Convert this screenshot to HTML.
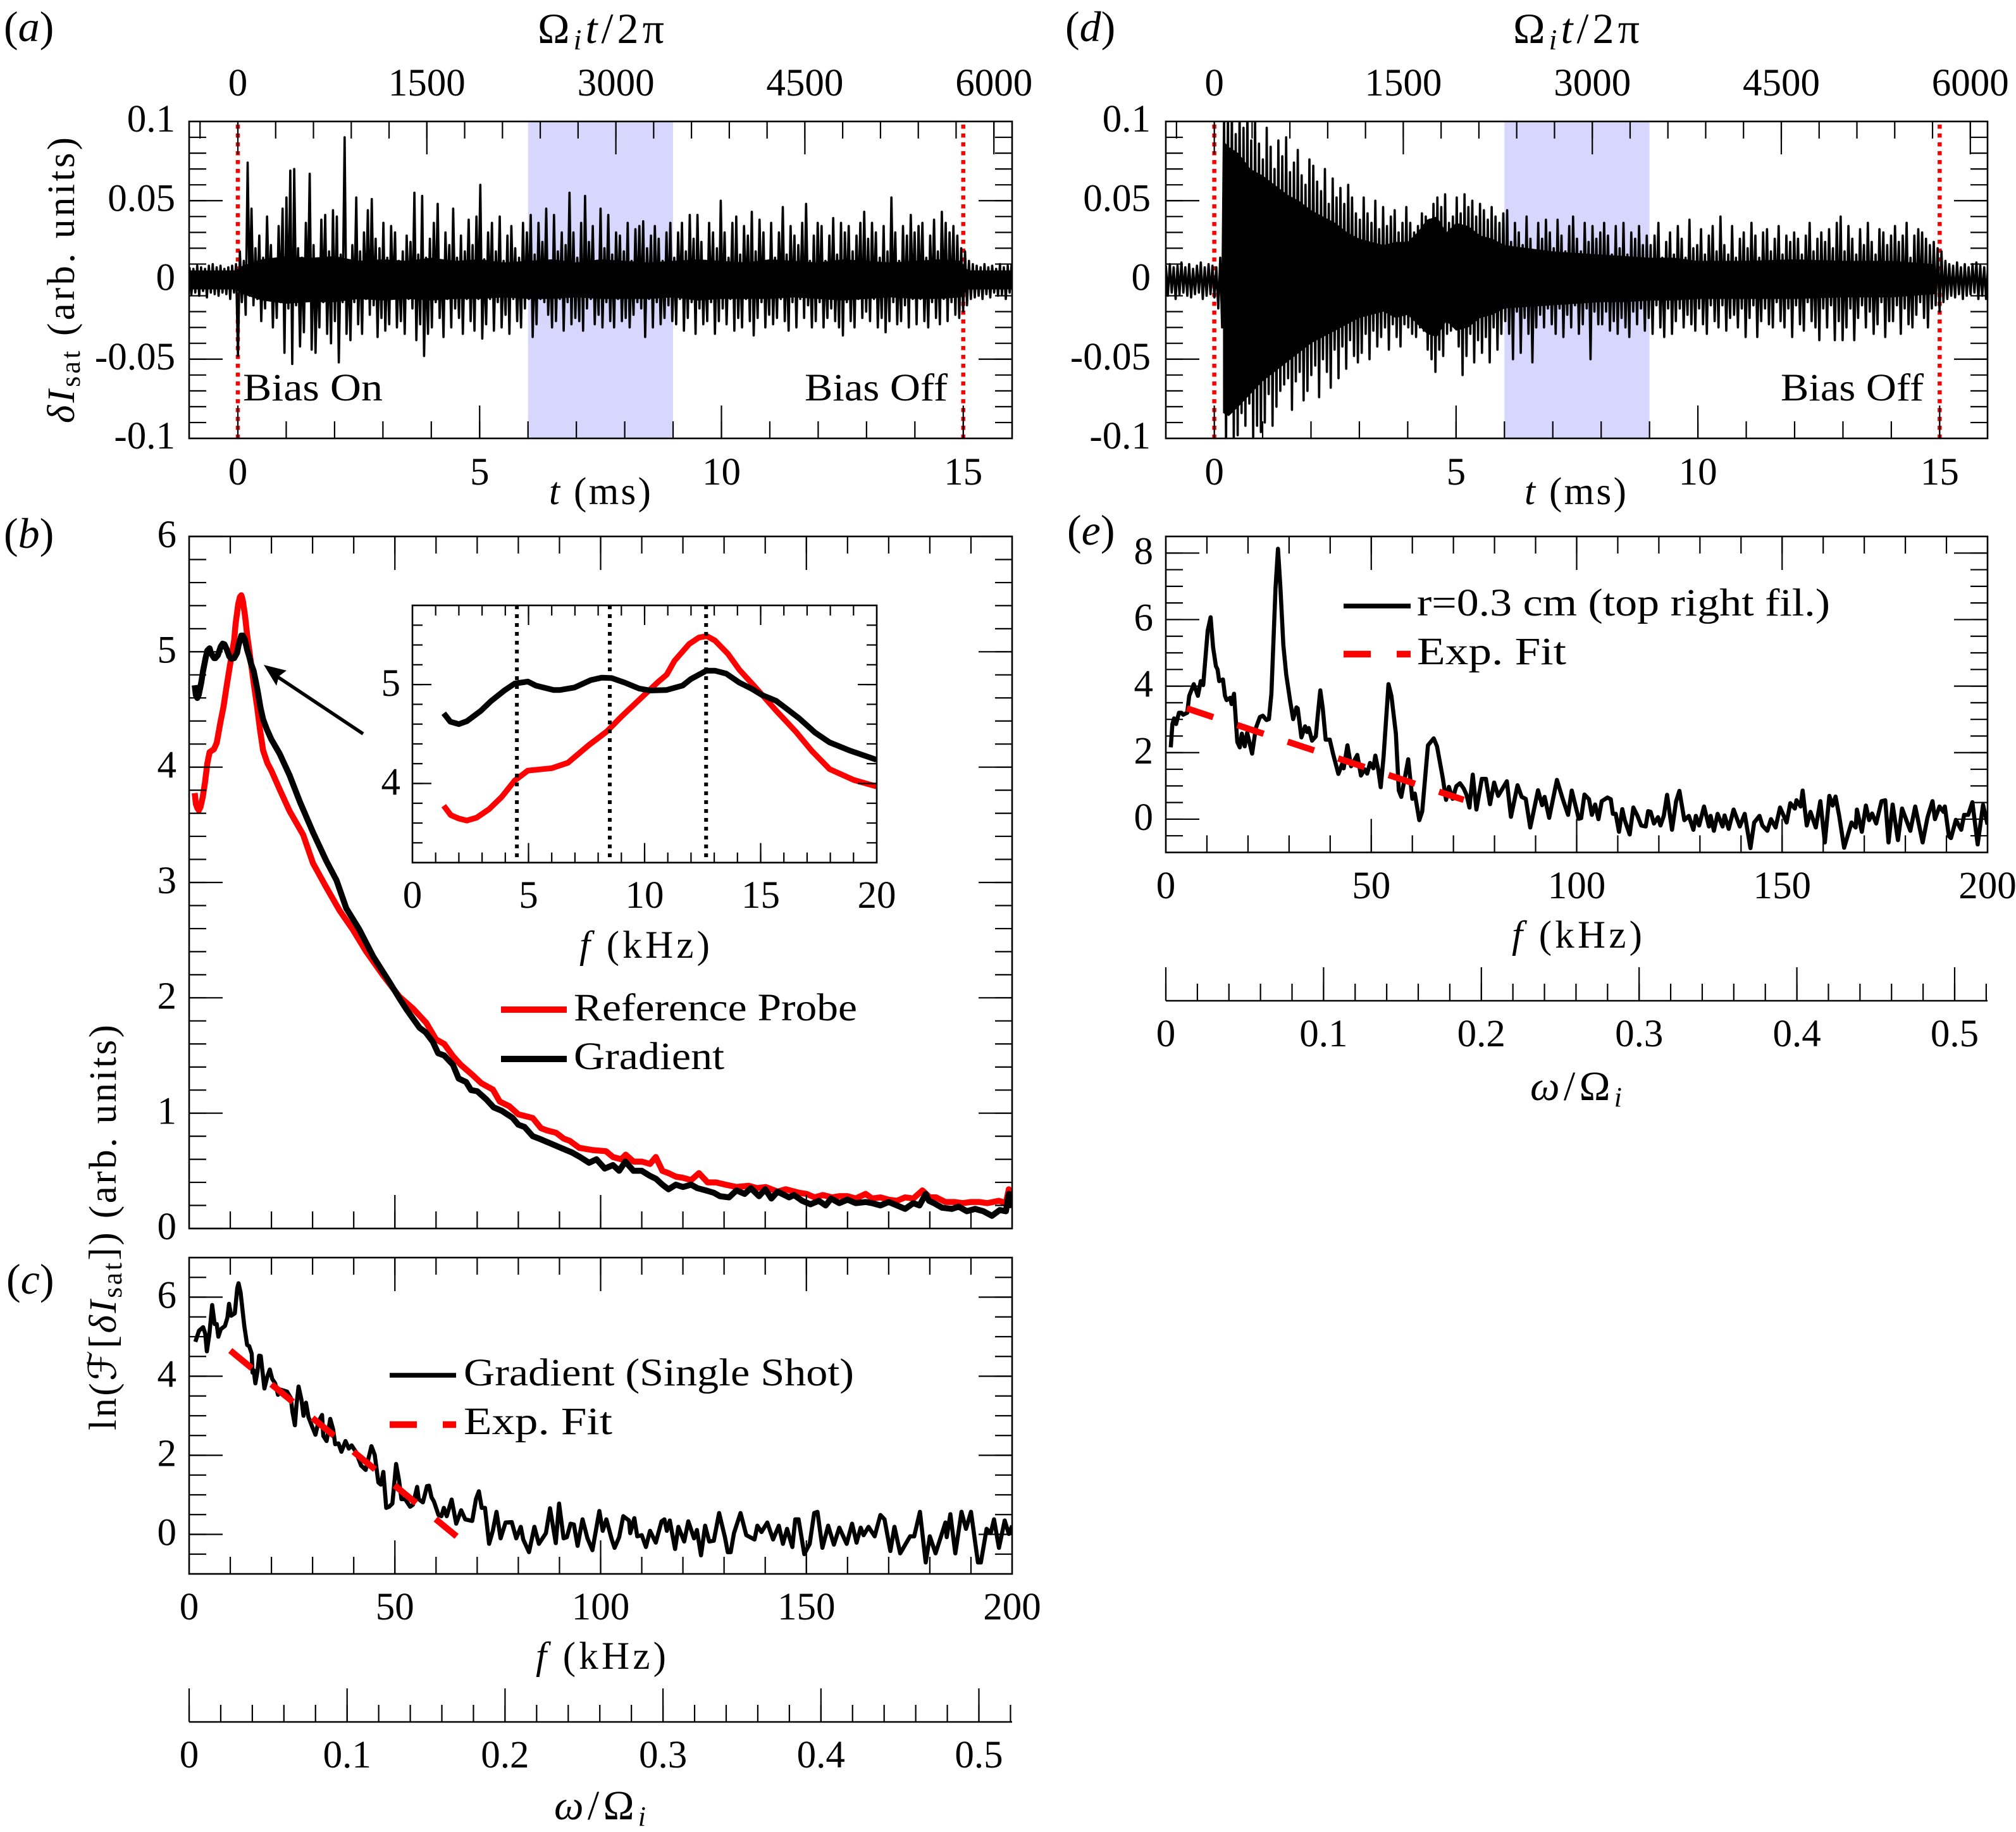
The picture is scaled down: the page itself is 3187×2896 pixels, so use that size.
<!DOCTYPE html>
<html lang="en">
<head>
<meta charset="utf-8">
<title>Ion saturation current fluctuations and spectra</title>
<style>
html,body{margin:0;padding:0;background:#fff;}
svg{display:block;}
text{font-family:"Liberation Serif","DejaVu Serif",serif;font-size:61px;fill:#000;}
.it{font-style:italic;}
</style>
</head>
<body>
<svg id="fig" xmlns="http://www.w3.org/2000/svg" width="3187" height="2896" viewBox="0 0 3187 2896">
<rect width="3187" height="2896" fill="#fff"/>
<defs>
<clipPath id="clip-a"><rect x="299" y="192" width="1301" height="501"/></clipPath>
<clipPath id="clip-d"><rect x="1843" y="192" width="1299" height="501"/></clipPath>
<clipPath id="clip-b"><rect x="299" y="848" width="1301" height="1094"/></clipPath>
<clipPath id="clip-c"><rect x="299" y="1988" width="1301" height="500"/></clipPath>
<clipPath id="clip-e"><rect x="1843" y="848" width="1299" height="500"/></clipPath>
</defs>
<g id="layer-marks"></g>

<text x="6" y="65" style="font-size:68px">(<tspan class="it">a</tspan>)</text>
<text x="1684" y="65" style="font-size:68px">(<tspan class="it">d</tspan>)</text>
<text x="6" y="866" style="font-size:68px">(<tspan class="it">b</tspan>)</text>
<text x="10" y="2045" style="font-size:68px">(<tspan class="it">c</tspan>)</text>
<text x="1687" y="861" style="font-size:68px">(<tspan class="it">e</tspan>)</text>

<text x="850" y="68" style="font-size:68px" textLength="200">Ω<tspan class="it" style="font-size:46px" dy="10">i</tspan><tspan class="it" dy="-10">t</tspan>/2π</text>
<text x="2392" y="68" style="font-size:68px" textLength="200">Ω<tspan class="it" style="font-size:46px" dy="10">i</tspan><tspan class="it" dy="-10">t</tspan>/2π</text>
<text x="868" y="797" textLength="161"><tspan class="it">t</tspan> (ms)</text>
<text x="2410" y="797" textLength="161"><tspan class="it">t</tspan> (ms)</text>

<text x="384" y="633" textLength="221" lengthAdjust="spacingAndGlyphs">Bias On</text>
<text x="1272" y="633" textLength="226" lengthAdjust="spacingAndGlyphs">Bias Off</text>
<text x="2815" y="633" textLength="226" lengthAdjust="spacingAndGlyphs">Bias Off</text>

<text transform="translate(117 669) rotate(-90)" textLength="452"><tspan class="it">δI</tspan><tspan style="font-size:44px" dy="9">sat</tspan><tspan dy="-9"> (arb. units)</tspan></text>
<text transform="translate(183 2261) rotate(-90)" textLength="641">ln(ℱ[<tspan class="it">δI</tspan><tspan style="font-size:44px" dy="9">sat</tspan><tspan dy="-9">]) (arb. units)</tspan></text>

<text x="916" y="1514" textLength="206"><tspan class="it">f</tspan> (kHz)</text>
<text x="907" y="1613" textLength="448" lengthAdjust="spacingAndGlyphs">Reference Probe</text>
<text x="907" y="1690" textLength="238" lengthAdjust="spacingAndGlyphs">Gradient</text>

<text x="733" y="2190" textLength="617" lengthAdjust="spacingAndGlyphs">Gradient (Single Shot)</text>
<text x="733" y="2267" textLength="235" lengthAdjust="spacingAndGlyphs">Exp. Fit</text>
<text x="847" y="2638" textLength="206"><tspan class="it">f</tspan> (kHz)</text>
<text x="876" y="2876" style="font-size:66px" textLength="145"><tspan class="it">ω</tspan>/Ω<tspan class="it" style="font-size:44px" dy="10">i</tspan></text>

<text x="2240" y="973" textLength="653" lengthAdjust="spacingAndGlyphs">r=0.3 cm (top right fil.)</text>
<text x="2240" y="1050" textLength="236" lengthAdjust="spacingAndGlyphs">Exp. Fit</text>
<text x="2390" y="1498" textLength="206"><tspan class="it">f</tspan> (kHz)</text>
<text x="2419" y="1739" style="font-size:66px" textLength="145"><tspan class="it">ω</tspan>/Ω<tspan class="it" style="font-size:44px" dy="10">i</tspan></text>

<script>
// ---------- Panel (a) / (d) time traces, milli-units, one row per millisecond
const traceStart = -1;
const traceEnd = 16;
const biasTimes = [0, 15];
const shadedWindow = [6, 9];
const signalA = [
8,-9,7,-8,9,-10,8,-7,7,-11,9,-8,10,-9,8,-10,9,-8,7,-9,8,-12,9,-8,10,
-48,18,-14,12,-22,74,-10,45,-16,20,-12,28,-26,14,-18,40,-9,22,-30,13,-24,34,-14,45,-46,
52,-18,69,-53,70,-16,20,-42,14,-33,36,-12,67,-44,22,-46,12,-30,38,-14,41,-34,18,-40,44,
-26,40,-52,16,-14,90,-34,12,-38,22,-14,52,-28,18,-34,30,-12,44,-22,51,-16,26,-36,20,-24,
36,-32,14,-28,34,-10,30,-30,12,-26,18,-34,28,-12,24,-18,55,-38,16,-28,53,-48,14,-34,26,
-30,36,-14,48,-24,12,-36,30,-12,22,-30,45,-18,14,-24,28,-34,18,-12,38,-26,22,-32,40,-12,
60,-37,13,-28,30,-12,36,-32,18,-14,40,-30,12,-22,28,-34,34,-12,20,-26,14,-30,36,-18,30,
-12,41,-36,16,-28,36,-12,24,-14,45,-22,12,-30,41,-26,18,-12,30,-32,22,-14,55,-28,30,-24,
14,-26,36,-32,53,-18,24,-12,34,-28,12,-22,45,-30,20,-14,41,-26,16,-30,30,-12,28,-26,18,
-24,36,-30,12,-22,32,-14,34,-18,37,-36,20,-12,28,-30,34,-14,26,-28,12,-24,30,-16,36,-26,
14,-28,30,-12,36,-32,18,-24,41,-14,26,-34,41,-18,24,-28,12,-26,36,-14,30,-34,20,-26,50,
-18,30,-28,14,-12,36,-32,40,-24,16,-30,34,-12,28,-26,43,-35,18,-24,38,-14,30,-30,12,-22,
36,-28,14,-24,30,-12,46,-26,16,-32,34,-14,28,-30,22,-12,36,-24,48,-16,12,-30,28,-26,36,
-14,34,-30,12,-24,28,-18,39,-26,16,-30,36,-35,30,-14,34,-26,18,-30,28,-12,36,-24,43,-20,
26,-26,36,-12,30,-30,14,-24,34,-33,18,-26,52,-14,30,-28,12,-26,34,-16,28,-30,41,-12,30,
-28,34,-12,36,-26,14,-30,28,-14,38,-24,18,-28,43,-12,36,-26,30,-14,34,-22,28,-24,20,-20,
18,-16,12,-12,10,-11,9,-10,8,-12,10,-9,8,-11,9,-8,7,-10,10,-9,8,-12,9,-8,10
];
const signalD = [
9,-10,10,-8,8,-12,9,-9,11,-8,8,-10,10,-11,7,-9,9,-8,11,-12,8,-10,10,-9,9,
-11,8,-18,14,-30,105,-105,110,-80,110,-100,92,-98,110,-84,96,-92,110,-78,88,-100,104,-92,86,-96,
76,-90,96,-72,84,-92,70,-80,88,-70,78,-66,90,-62,68,-82,74,-64,82,-58,66,-76,60,-70,76,
-60,72,-54,62,-74,56,-50,70,-58,48,-68,64,-44,52,-62,58,-42,48,-56,60,-38,52,-48,42,-52,
38,-46,52,-34,42,-50,36,-32,50,-42,32,-36,46,-30,34,-44,40,-28,44,-36,30,-42,36,-28,46,
-30,36,-34,30,-36,34,-30,42,-32,40,-44,38,-50,48,-58,52,-44,46,-48,54,-34,36,-32,40,-30,
52,-42,42,-60,54,-48,46,-34,50,-52,40,-38,48,-46,44,-36,38,-52,46,-30,40,-44,36,-34,42,
-26,44,-34,24,-50,36,-20,30,-46,22,-24,40,-34,26,-52,18,-30,36,-22,26,-30,38,-18,30,-28,
20,-34,38,-18,28,-36,18,-22,34,-30,40,-16,26,-34,18,-28,36,-18,24,-50,34,-20,26,-28,30,
-28,36,-20,28,-32,16,-26,34,-34,20,-24,36,-30,16,-36,30,-20,26,-28,34,-18,22,-32,28,-24,
22,-34,28,-16,36,-30,14,-36,24,-18,30,-34,16,-26,34,-18,26,-30,14,-22,38,-28,20,-32,22,
-18,32,-28,16,-34,28,-16,34,-26,18,-30,40,-16,22,-32,16,-24,34,-22,14,-30,26,-18,30,-36,
20,-24,36,-16,28,-36,14,-26,30,-18,32,-28,18,-30,26,-14,34,-26,16,-30,28,-18,24,-36,30,
-16,26,-28,16,-32,28,-14,36,-26,18,-30,26,-38,30,-18,24,-30,32,-16,20,-38,36,-26,40,-38,
18,-30,34,-18,26,-38,16,-24,32,-16,22,-30,36,-20,24,-34,16,-28,32,-14,30,-36,22,-26,28,
-26,34,-16,24,-34,28,-18,36,-28,14,-30,28,-22,32,-14,30,-24,26,-30,22,-18,24,-16,20,-20,
18,-14,12,-12,10,-10,9,-11,11,-9,8,-12,10,-10,8,-9,10,-8,11,-12,9,-10,8,-12,10
];
// Solid core of each trace, read as an envelope (milli-units)
const coreATimes = [-1,-0.05,0.1,0.5,1,1.5,2,2.5,3,3.5,4,4.5,5,5.5,6,6.5,7,7.5,8,8.5,9,9.5,10,10.5,11,11.5,12,12.5,13,13.5,14,14.5,14.95,15.1,16];
const coreAUpper = [6,6,9,13,15,14,15,12,13,12,14,12,13,11,12,13,11,13,12,11,12,13,12,11,13,12,11,13,12,11,12,13,12,6,6];
const coreALower = [-6,-6,-9,-13,-15,-14,-14,-12,-13,-12,-13,-12,-12,-11,-12,-12,-11,-12,-12,-12,-11,-13,-12,-12,-12,-11,-12,-13,-12,-11,-12,-12,-11,-6,-6];
const coreDTimes = [0.18,0.3,0.5,0.75,1,1.25,1.5,1.75,2,2.25,2.5,2.75,3,3.25,3.5,3.75,4,4.2,4.4,4.6,4.8,5,5.25,5.5,5.75,6,6.5,7,7.5,8,8.5,9,9.5,10,11,12,13,14,14.9];
const coreDUpper = [88,84,80,70,66,60,54,50,44,40,36,30,26,24,22,24,24,30,38,40,30,36,34,28,26,22,20,18,17,16,15,14,14,12,12,13,12,12,10];
const coreDLower = [-84,-86,-80,-72,-64,-58,-52,-46,-40,-36,-32,-28,-24,-22,-20,-24,-22,-28,-34,-36,-26,-32,-30,-24,-22,-18,-17,-16,-15,-14,-14,-13,-13,-12,-12,-12,-11,-11,-9];
const traceYTicks = [0.1, 0.05, 0, -0.05, -0.1];
const traceYLabels = ['0.1', '0.05', '0', '-0.05', '-0.1'];
const timeTicks = [0, 5, 10, 15];
const timeLabels = ['0', '5', '10', '15'];
const cycleTicks = [0, 1500, 3000, 4500, 6000];
const cycleLabels = ['0', '1500', '3000', '4500', '6000'];

// ---------- Panel (b) averaged spectra (kHz, ln amplitude)
const refLowF = [1.35,1.65,2.0,2.35,2.77,3.3,3.85,4.41,4.97,6.01,6.7,7.61,8.37,9.0,9.83,10.6,10.95,11.29,11.92,12.34,12.68,13.03,13.59,14.08,14.84,15.67,16.51,17.2,17.97,19.01,19.99];
const refLowV = [3.775,3.68,3.645,3.625,3.655,3.74,3.865,4.03,4.13,4.155,4.21,4.39,4.525,4.675,4.86,5.03,5.1,5.24,5.41,5.475,5.49,5.445,5.31,5.15,4.955,4.735,4.525,4.33,4.145,4.035,3.97];
const gradLowF = [1.35,1.63,2.0,2.35,2.95,3.37,3.99,4.41,4.97,5.31,6.08,6.36,6.98,7.68,8.16,8.58,9.14,9.76,10.25,10.95,11.64,11.99,12.66,13.03,13.52,14.08,14.63,15.05,15.67,16.09,16.65,17.34,17.97,18.87,19.99];
const gradLowV = [4.71,4.625,4.6,4.63,4.735,4.83,4.945,5.01,5.03,4.99,4.945,4.945,4.97,5.045,5.07,5.065,5.02,4.96,4.94,4.945,4.99,5.055,5.14,5.14,5.11,5.02,4.955,4.895,4.835,4.76,4.66,4.515,4.415,4.33,4.24];
const refTailF = [22,24.4,27.7,30.1,33.3,36.6,39.8,43,47.1,51.1,54.4,57.6,60,62,64.1,66,68.9,71,73.8,75.5,77.8,80,83.5,85.5,87,89.2,91,92.5,94.8,98,101.3,103,105,106.1,108,110,112,113.4,115,116.5,118.3,120,122,123.9,126,128,130.4,133,136,138,140.1,143,145,148.2,150,152,154,156.3,158,160,162,164.4,166,168,170,172,174,176,178.2,180,181.5,183.8,186,188,190,192,194,196.8,198.5,199.2,200];
const refTailV = [3.807,3.62,3.414,3.167,2.96,2.755,2.59,2.403,2.196,2.01,1.907,1.784,1.64,1.6,1.495,1.42,1.33,1.26,1.205,1.1,1.06,0.99,0.958,0.87,0.85,0.83,0.78,0.76,0.7,0.68,0.67,0.62,0.6,0.64,0.58,0.58,0.56,0.62,0.5,0.48,0.45,0.44,0.42,0.48,0.4,0.4,0.38,0.36,0.37,0.35,0.36,0.32,0.34,0.31,0.3,0.27,0.29,0.27,0.28,0.28,0.26,0.3,0.26,0.27,0.25,0.24,0.27,0.26,0.33,0.27,0.27,0.23,0.23,0.22,0.23,0.23,0.22,0.24,0.22,0.34,0.25];
const gradTailF = [22,24.4,26.9,30.1,33.3,35.8,38.2,41.4,44.7,48.7,51,52.8,54,56,57.5,59.2,60.5,62,64.1,65.5,67.3,68.5,70,72.2,74,76,78.6,80,81.5,83.5,85,87,89,91.6,93,95,97.2,99,101,103,104.5,106,108,110,111.8,113.5,115,116.5,118.3,120,122,123.5,125.6,127.5,129,131.2,133,135,136.5,138.5,140,141.5,143,145.8,147,149,151,153,154.7,156,158,160,162,164.4,166,168,170,172,174,176,177.5,179,179.8,181,183,185.4,187,189,191,193,195.1,197,198.5,199.2,200];
const gradTailV = [4.116,3.93,3.7,3.435,3.19,3.02,2.775,2.59,2.36,2.135,2,1.9,1.84,1.74,1.7,1.62,1.52,1.5,1.42,1.3,1.27,1.2,1.19,1.12,1.05,1.02,0.96,0.9,0.88,0.8,0.78,0.75,0.72,0.68,0.66,0.62,0.57,0.6,0.52,0.55,0.5,0.58,0.5,0.5,0.46,0.43,0.38,0.34,0.38,0.36,0.38,0.35,0.33,0.31,0.28,0.27,0.33,0.3,0.35,0.28,0.34,0.26,0.32,0.27,0.29,0.24,0.21,0.24,0.2,0.26,0.22,0.25,0.22,0.23,0.22,0.2,0.23,0.2,0.17,0.22,0.2,0.3,0.24,0.22,0.18,0.17,0.19,0.15,0.17,0.15,0.11,0.16,0.15,0.3,0.18];
const insetPeakFreqs = [4.5, 8.5, 12.65];

// ---------- Panel (c) single-shot spectrum
const shotF = [1.5,2.4,3.4,3.9,4.3,4.9,5.6,6.2,6.7,7.1,7.7,8.7,9.3,9.7,10.2,11.1,11.7,12,12.5,13.4,14.1,14.6,15.2,15.4,15.7,16.1,16.6,17,17.4,18.3,19,19.6,20.2,20.9,21.6,22.3,23.8,24.7,25.1,25.7,26.1,26.6,27.3,27.8,28.4,29,30,30.7,31.4,32.3,32.6,33.4,34.3,35,35.5,36.3,37,38,38.8,39.5,40.5,41.8,42.9,44.3,45.1,46,46.6,47.2,47.9,48.6,49.4,50.3,51,51.6,52.5,53.7,54.4,55.4,55.8,56.8,57.8,58.3,58.9,59.5,60.6,61.3,61.9,62.6,63.8,64.9,66.1,67.1,68.8,69.7,70.4,71.1,71.9,72.9,73.8,74.7,75.7,76.9,78.4,79.5,80.6,81.2,82.6,83.9,85,86.7,87.7,89.1,89.9,91,91.8,92.7,93.5,94.4,95.6,96.8,98,99.7,100.5,101.4,102.7,103.4,104.5,105.5,106.9,107.2,108.2,108.9,110,111,112,113.4,114.8,115.5,116.1,116.8,118.1,118.9,120.3,121.3,122.7,123.4,124.4,125.4,126.4,127.5,128.8,130.2,130.9,131.6,132.4,134,135.4,137.4,138.1,139.1,140.5,141.9,143.3,144.3,145.3,146.6,147.3,148.1,149.5,150.8,151.9,152.7,153.9,155.3,156.7,158,159.8,161.1,162.2,163.2,163.9,165.1,166.6,168,169,170.4,171.4,172.8,175.2,176.2,177.6,179,180,181.4,183.8,184.1,185,186.2,187.7,188.8,190,191.7,192.4,193.8,194.8,195.6,196.8,198.2,199.2,200];
const shotV = [4.87,5.15,5.24,5.08,4.63,5.05,5.8,5.32,5.32,5,5.19,5.27,5.48,5.83,5.53,5.59,6.23,6.35,6.12,5.27,4.79,4.76,4.57,4.09,4.15,3.82,4.12,4.52,4.51,3.69,3.99,4.17,3.93,3.82,3.53,3.66,3.61,3.45,3.1,2.76,3.29,3.74,3.4,3,3.33,2.97,2.7,2.52,2.84,3.02,2.49,2.36,2.92,2.65,2.28,2.3,2.09,2.36,2.17,2.25,2.09,1.74,1.63,2.23,2.01,1.31,1.26,1.58,0.67,0.7,0.78,1.78,1.37,0.89,0.89,0.7,0.75,1.2,0.89,0.81,1.22,1.23,0.94,0.83,0.49,0.46,0.67,0.46,0.88,0.27,0.61,0.38,0.34,0.89,1.09,0.67,0.67,-0.24,0.09,0.57,-0.1,0.3,0.31,-0.1,0.19,-0.13,-0.45,0.19,-0.24,0.03,0.66,-0.22,0.78,-0.1,-0.07,0.27,0.25,-0.29,0.38,-0.1,-0.4,0.59,0.09,0.38,-0.13,-0.34,-0.07,0.46,0.35,0.03,0.41,-0.05,-0.02,-0.32,0.09,-0.21,0.33,0.38,0.09,0.35,-0.37,0.19,-0.18,0.33,-0.1,0.11,-0.53,0.22,-0.18,-0.16,0.54,-0.07,-0.45,-0.45,0.03,0.54,-0.02,-0.13,0.22,0.06,0.3,-0.13,0.22,-0.24,0.14,-0.32,0.38,0.38,-0.5,-0.24,0.54,0.57,-0.34,0.22,-0.26,0.17,-0.24,0.27,-0.21,0.17,-0.02,0.19,-0.05,0.49,0.38,-0.42,0.19,-0.48,-0.05,-0.05,0.57,-0.71,-0.05,-0.48,0.3,-0.07,0.51,-0.48,0.57,0.14,0.57,-0.71,-0.71,0.14,0.03,0.38,-0.34,0.35,0.01,0.22];
const fitCF = [10, 65];
const fitCV = [4.65, -0.05];

// ---------- Panel (e) filament spectrum
const filF = [1.2,1.6,2,2.5,3.2,3.8,4.2,5.2,5.7,6.8,7.8,8.5,9.1,10.2,10.9,11.5,12.2,12.6,13,13.9,14.4,14.8,15.7,16,16.6,17.4,18,18.5,19.2,19.8,21,21.9,22.9,23.6,24.5,25.1,25.7,26.7,27.3,27.9,28.6,29.3,30.3,31,31.8,32.1,33,33.9,34.4,34.8,35.6,36.5,37,37.6,38.2,38.9,39.9,40.7,42,43,43.3,44.2,45.1,46.6,47.5,48.4,49,49.7,50.5,51,51.7,52.3,53,54.2,54.9,56,56.7,57.3,59,60,60.6,61.7,62.4,63.8,65.2,66,67.4,68.2,68.9,69.8,70.7,71.6,72.5,73.2,73.9,74.7,75.6,76.9,77.9,78.9,79.9,80.9,83,84,85.6,86.6,87.6,88.7,90.6,91.6,92.2,93.3,95.2,96.6,97.9,98.8,100.5,101.1,101.9,103,103.7,104.5,105.3,106.1,107.5,108.3,108.8,109.5,110.3,111.1,111.7,112.9,113.8,114.8,115.7,116.8,117.4,118,118.8,119.8,120.4,121.2,122,123.2,124.2,125,126.2,127.3,128.4,129,129.8,131,132.2,132.6,133.4,134.3,135.5,136,137,138.2,139.7,140.9,142.3,143.2,144.5,145.2,146.4,147.3,148.4,149.5,151.1,152,153.1,153.5,154.5,155,156,156.9,158.2,159.3,160.4,161.5,162.3,163,163.9,165.1,166.9,167.9,168.2,169.4,170.4,171.2,171.9,172.9,174.2,175.1,175.9,176.9,178.2,179.2,181.2,182.4,184.2,185.4,186.6,187.2,188.3,189.3,189.6,190.6,191.1,192.3,193.6,194.3,195.3,196.3,197.6,198.9,200];
const filV = [2.16,2.86,3.03,2.86,3.2,3.2,3.14,3.2,3.71,4.06,3.71,4.15,4.03,5.67,6.07,5.17,4.6,4.5,4.15,4.2,3.71,3.58,3.65,3.46,3.77,2.32,2.16,2.57,2.19,2.6,1.97,2.73,3.07,3.11,2.98,3.01,3.77,6.94,8.13,6.94,5.23,4.35,3.52,3.01,3.36,3.33,2.46,2.79,2.62,2.74,2.36,2.49,3.14,3.87,3.33,2.39,2.39,1.97,1.36,1.69,1.53,2.22,1.59,1.93,1.31,1.5,1.37,1.69,1.53,1.91,1.49,0.96,1.87,4.06,3.71,2.57,0.86,0.67,1.8,0.61,0.77,-0.03,0.23,2.22,2.43,2.19,1.24,0.58,0.97,0.61,0.99,1.08,0.92,0.73,0.35,1.34,0.29,1.21,1.21,0.45,1.1,0.7,1.14,0.07,1.02,0.67,0.61,-0.25,0.87,0.42,0.67,0.04,1.18,0.61,0.13,0.86,0.01,0.03,0.74,0.6,0.13,0.44,0,0.54,0.65,0.6,0.16,0.16,-0.38,0.3,-0.03,-0.46,0.35,0.1,-0.19,-0.22,0.24,0.22,-0.13,0.06,-0.19,0.1,0.73,-0.32,0.54,0.85,-0.03,0.1,-0.32,0.1,-0.19,0.38,-0.22,0.1,-0.35,0.16,-0.22,0.11,-0.29,0.29,-0.22,0.16,-0.87,-0.1,0.1,-0.19,-0.35,0,-0.25,0.35,-0.1,0.48,0.32,0.57,0.38,0.86,-0.19,0.22,-0.25,0.54,-0.7,0.7,0.41,0.68,0.1,-0.86,-0.1,-0.25,0.29,-0.38,0.41,-0.03,0.17,-0.13,0.54,0.57,-0.7,0.44,-0.63,0.32,-0.35,0.38,-0.7,0.06,0.54,0,0.38,0.22,0.38,-0.51,-0.57,-0.02,-0.32,0.13,0.13,0.51,-0.76,0.43,-0.16];
const fitEF = [5.1, 72.5];
const fitEV = [3.33, 0.58];

// ---------- Shared tick arrays
const freqTicks = [0, 50, 100, 150, 200];
const freqLabels = ['0', '50', '100', '150', '200'];
const omegaTicks = [0, 0.1, 0.2, 0.3, 0.4, 0.5];
const omegaLabels = ['0', '0.1', '0.2', '0.3', '0.4', '0.5'];
const bYTicks = [0, 1, 2, 3, 4, 5, 6];
const bYLabels = ['0', '1', '2', '3', '4', '5', '6'];
const cYTicks = [0, 2, 4, 6];
const cYLabels = ['0', '2', '4', '6'];
const eYTicks = [0, 2, 4, 6, 8];
const eYLabels = ['0', '2', '4', '6', '8'];
const insetXTicks = [0, 5, 10, 15, 20];
const insetXLabels = ['0', '5', '10', '15', '20'];
const insetYTicks = [4, 5];
const insetYLabels = ['4', '5'];

// ---------- Drawing helpers
const NS = 'http://www.w3.org/2000/svg';
const root = document.getElementById('layer-marks');
function linear(d0, d1, r0, r1) { return v => r0 + (v - d0) * (r1 - r0) / (d1 - d0); }
function seq(a, b, step) { const out = []; const n = Math.round((b - a) / step); for (let i = 0; i <= n; i++) out.push(a + i * step); return out; }

function seg(name, x1, y1, x2, y2, color, width, dash) {
  const el = document.createElementNS(NS, 'line');
  
  
  el.setAttribute('x1', x1); el.setAttribute('y1', y1);
  el.setAttribute('x2', x2); el.setAttribute('y2', y2);
  el.setAttribute('stroke', color); el.setAttribute('stroke-width', width);
  if (dash) el.setAttribute('stroke-dasharray', dash);
  root.appendChild(el);
  return el;
}
function curve(name, xs, ys, color, width, clip) {
  const el = document.createElementNS(NS, 'polyline');
  
  
  el.setAttribute('points', xs.map((x, i) => x.toFixed(1) + ',' + ys[i].toFixed(1)).join(' '));
  el.setAttribute('fill', 'none');
  el.setAttribute('stroke', color);
  el.setAttribute('stroke-width', width);
  el.setAttribute('stroke-linejoin', 'round');
  if (clip) el.setAttribute('clip-path', 'url(#' + clip + ')');
  root.appendChild(el);
  return el;
}
function label(name, s, x, y, anchor) {
  const el = document.createElementNS(NS, 'text');
  
  
  el.setAttribute('x', x); el.setAttribute('y', y);
  el.setAttribute('text-anchor', anchor);
  el.textContent = s;
  root.appendChild(el);
  return el;
}
function frame(name, x0, y0, x1, y1) {
  const el = document.createElementNS(NS, 'rect');
  
  
  el.setAttribute('x', x0); el.setAttribute('y', y0);
  el.setAttribute('width', x1 - x0); el.setAttribute('height', y1 - y0);
  el.setAttribute('fill', 'none'); el.setAttribute('stroke', '#000'); el.setAttribute('stroke-width', 2.6);
  root.appendChild(el);
}
function band(name, x0, x1, y0, y1, color) {
  const el = document.createElementNS(NS, 'rect');
  
  
  el.setAttribute('x', x0); el.setAttribute('y', y0);
  el.setAttribute('width', x1 - x0); el.setAttribute('height', y1 - y0);
  el.setAttribute('fill', color);
  root.appendChild(el);
}
function envelope(name, xs, upper, lower) {
  const el = document.createElementNS(NS, 'polygon');
  
  
  const top = xs.map((x, i) => x.toFixed(1) + ',' + upper[i].toFixed(1));
  const bot = xs.map((x, i) => x.toFixed(1) + ',' + lower[i].toFixed(1)).reverse();
  el.setAttribute('points', top.concat(bot).join(' '));
  el.setAttribute('fill', '#000');
  root.appendChild(el);
}
function hTicks(name, scale, vals, x0, x1, len) {
  vals.forEach(v => {
    seg(name, x0, scale(v), x0 + len, scale(v), '#000', 2.2);
    seg(name, x1, scale(v), x1 - len, scale(v), '#000', 2.2);
  });
}
function vTicks(name, scale, vals, y, len) {
  vals.forEach(v => seg(name, scale(v), y, scale(v), y + len, '#000', 2.2));
}
function fitSeries(name, xs, ys, width) {
  const el = curve(name, xs, ys, '#f00', width, null);
  el.setAttribute('stroke-dasharray', '44 40');
  el.setAttribute('stroke-linecap', 'butt');
  return el;
}

// ---------- Time-trace panels (a) and (d)
function tracePanel(id, left, right, zeroX, signal, yLabelRight, clip, core) {
  const top = 192, bottom = 693;
  const pxPerMs = 76.45;
  const x = linear(0, 1, zeroX, zeroX + pxPerMs);
  const y = linear(-0.1, 0.1, bottom, top);
  const xCycle = linear(0, 1500, zeroX, zeroX + 298.8);
  band('analysis-window-' + id, x(shadedWindow[0]), x(shadedWindow[1]), top, bottom, '#d7d7fe');
  biasTimes.forEach(t => seg('bias-switch-line-' + id, x(t), top + 5, x(t), bottom, '#f00', 6.5, '6.5 7.5'));
  envelope('signal-core-' + id, core.t.map(x), core.up.map(v => y(v / 1000)), core.lo.map(v => y(v / 1000)));
  const dt = (traceEnd - traceStart) / (signal.length - 1);
  curve('signal-trace-' + id, signal.map((_, i) => x(traceStart + i * dt)), signal.map(v => y(v / 1000)), '#000', 3.6, clip);
  hTicks('y-minor-tick-' + id, y, seq(-0.09, 0.09, 0.01), left, right, 27);
  hTicks('y-major-tick-' + id, y, [-0.05, 0, 0.05], left, right, 53);
  vTicks('x-minor-tick-' + id, x, seq(0, 15, 1), bottom, -27);
  vTicks('x-major-tick-' + id, x, timeTicks, bottom, -52);
  vTicks('top-minor-tick-' + id, xCycle, seq(-300, 6000, 300), top, 27);
  vTicks('top-major-tick-' + id, xCycle, cycleTicks, top, 52);
  frame('axes-frame-' + id, left, top, right, bottom);
  traceYTicks.forEach((v, i) => label('y-tick-label-' + id, traceYLabels[i], yLabelRight, y(v) + 16, 'end'));
  timeTicks.forEach((v, i) => label('x-tick-label-' + id, timeLabels[i], x(v), 766, 'middle'));
  cycleTicks.forEach((v, i) => label('top-tick-label-' + id, cycleLabels[i], xCycle(v), 151, 'middle'));
}
tracePanel('a', 299, 1600, 376, signalA, 277, 'clip-a', { t: coreATimes, up: coreAUpper, lo: coreALower });
tracePanel('d', 1843, 3142, 1919.6, signalD, 1819, 'clip-d', { t: coreDTimes, up: coreDUpper, lo: coreDLower });

// ---------- Panel (b)
const bx = linear(0, 200, 299, 1600);
const by = linear(0, 6, 1942, 848);
const refF = refLowF.concat(refTailF), refV = refLowV.concat(refTailV);
const gradF = gradLowF.concat(gradTailF), gradV = gradLowV.concat(gradTailV);
curve('reference-probe-spectrum', refF.map(bx), refV.map(by), '#f00', 9.5, 'clip-b');
curve('gradient-spectrum', gradF.map(bx), gradV.map(by), '#000', 9.5, 'clip-b');
hTicks('y-minor-tick-b', by, seq(0.2, 5.8, 0.2), 299, 1600, 27);
hTicks('y-major-tick-b', by, bYTicks, 299, 1600, 53);
vTicks('x-minor-tick-b', bx, seq(10, 190, 10), 1942, -27);
vTicks('x-major-tick-b', bx, [50, 100, 150], 1942, -53);
vTicks('top-minor-tick-b', bx, seq(10, 190, 10), 848, 27);
vTicks('top-major-tick-b', bx, [50, 100, 150], 848, 53);
frame('axes-frame-b', 299, 848, 1600, 1942);
bYTicks.forEach((v, i) => label('y-tick-label-b', bYLabels[i], 279, by(v) + 17, 'end'));

// Inset of (b)
const ix = linear(0, 20, 652, 1386);
const iy = linear(3.2, 5.8, 1363.6, 957);
curve('inset-reference-probe-spectrum', refLowF.map(ix), refLowV.map(iy), '#f00', 9, null);
curve('inset-gradient-spectrum', gradLowF.map(ix), gradLowV.map(iy), '#000', 9, null);
insetPeakFreqs.forEach(f => seg('inset-peak-marker', ix(f), 957, ix(f), 1363.6, '#000', 6, '6 8'));
hTicks('inset-y-minor-tick', iy, seq(3.4, 5.6, 0.2), 652, 1386, 16);
hTicks('inset-y-major-tick', iy, insetYTicks, 652, 1386, 30);
vTicks('inset-x-minor-tick', ix, seq(1, 19, 1), 1363.6, -16);
vTicks('inset-x-major-tick', ix, [5, 10, 15], 1363.6, -31);
vTicks('inset-top-minor-tick', ix, seq(1, 19, 1), 957, 16);
vTicks('inset-top-major-tick', ix, [5, 10, 15], 957, 31);
frame('inset-frame', 652, 957, 1386, 1363.6);
insetYTicks.forEach((v, i) => label('inset-y-tick-label', insetYLabels[i], 633, iy(v) + 18, 'end'));
insetXTicks.forEach((v, i) => label('inset-x-tick-label', insetXLabels[i], ix(v), 1435, 'middle'));

// Arrow pointing from inset to peak
const arrowShaft = seg('inset-arrow-shaft', 574, 1160, 436, 1068, '#000', 5.5);
const arrowHead = document.createElementNS(NS, 'path');


arrowHead.setAttribute('d', 'M417 1051 L453 1060 L441 1069 L437 1084 Z');
arrowHead.setAttribute('fill', '#000');
root.appendChild(arrowHead);

// Legend (b)
seg('legend-line-reference-probe', 792, 1596, 896, 1596, '#f00', 10);
seg('legend-line-gradient', 792, 1674, 896, 1674, '#000', 10);

// ---------- Panel (c)
const cx = linear(0, 200, 299, 1600);
const cy = linear(-1, 7, 2488, 1988);
curve('single-shot-spectrum', shotF.map(cx), shotV.map(cy), '#000', 6.5, 'clip-c');
fitSeries('exp-fit-c', fitCF.map(cx), fitCV.map(cy), 10);
hTicks('y-minor-tick-c', cy, seq(-0.5, 6.5, 0.5), 299, 1600, 27);
hTicks('y-major-tick-c', cy, cYTicks, 299, 1600, 53);
vTicks('x-minor-tick-c', cx, seq(10, 190, 10), 2488, -27);
vTicks('x-major-tick-c', cx, [50, 100, 150], 2488, -53);
vTicks('top-minor-tick-c', cx, seq(10, 190, 10), 1988, 27);
vTicks('top-major-tick-c', cx, [50, 100, 150], 1988, 53);
frame('axes-frame-c', 299, 1988, 1600, 2488);
cYTicks.forEach((v, i) => label('y-tick-label-c', cYLabels[i], 279, cy(v) + 17, 'end'));
freqTicks.forEach((v, i) => label('x-tick-label-c', freqLabels[i], cx(v), 2560, 'middle'));
seg('legend-line-single-shot', 616, 2174, 721, 2174, '#000', 7.5);
seg('legend-line-exp-fit-c', 616, 2252, 721, 2252, '#f00', 10.5, '43 41');

// Normalized-frequency axis under (c)
const cw = linear(0, 0.5, 299, 1547.5);
seg('normalized-axis-line-c', 299, 2722, 1600, 2722, '#000', 2.6);
vTicks('normalized-minor-tick-c', cw, seq(0, 0.52, 0.02), 2722, -27);
vTicks('normalized-major-tick-c', cw, omegaTicks, 2722, -53);
omegaTicks.forEach((v, i) => label('normalized-tick-label-c', omegaLabels[i], cw(v), 2794, 'middle'));

// ---------- Panel (e)
const ex = linear(0, 200, 1843, 3142);
const ey = linear(-1, 8.5, 1347.5, 848);
curve('filament-spectrum', filF.map(ex), filV.map(ey), '#000', 6.5, 'clip-e');
fitSeries('exp-fit-e', fitEF.map(ex), fitEV.map(ey), 10);
hTicks('y-minor-tick-e', ey, seq(-0.5, 8, 0.5), 1843, 3142, 27);
hTicks('y-major-tick-e', ey, eYTicks, 1843, 3142, 53);
vTicks('x-minor-tick-e', ex, seq(10, 190, 10), 1347.5, -27);
vTicks('x-major-tick-e', ex, [50, 100, 150], 1347.5, -53);
vTicks('top-minor-tick-e', ex, seq(10, 190, 10), 848, 27);
vTicks('top-major-tick-e', ex, [50, 100, 150], 848, 53);
frame('axes-frame-e', 1843, 848, 3142, 1347.5);
eYTicks.forEach((v, i) => label('y-tick-label-e', eYLabels[i], 1823, ey(v) + 17, 'end'));
freqTicks.forEach((v, i) => label('x-tick-label-e', freqLabels[i], ex(v), 1420, 'middle'));
seg('legend-line-filament', 2124, 958, 2230, 958, '#000', 7.5);
seg('legend-line-exp-fit-e', 2124, 1034, 2230, 1034, '#f00', 10.5, '43 41');

// Normalized-frequency axis under (e)
const ew = linear(0, 0.5, 1843, 3090);
seg('normalized-axis-line-e', 1843, 1582, 3142, 1582, '#000', 2.6);
vTicks('normalized-minor-tick-e', ew, seq(0, 0.52, 0.02), 1582, -27);
vTicks('normalized-major-tick-e', ew, omegaTicks, 1582, -53);
omegaTicks.forEach((v, i) => label('normalized-tick-label-e', omegaLabels[i], ew(v), 1654, 'middle'));
</script>
</svg>
</body>
</html>
